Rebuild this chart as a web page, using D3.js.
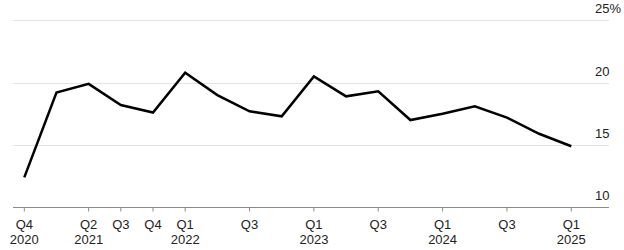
<!DOCTYPE html>
<html>
<head>
<meta charset="utf-8">
<script src="https://cdn.jsdelivr.net/npm/d3@7"></script>
<style>
  body { margin: 0; background: #fff; }
  svg text { font-family: "Liberation Sans", Arial, sans-serif; fill: #222; }
</style>
</head>
<body>
<svg id="chart" width="624" height="250"></svg>
<script>
// quarters shown on the chart
var quarters = ["Q4 2020", "Q1 2021", "Q2 2021", "Q3 2021", "Q4 2021",
                "Q1 2022", "Q2 2022", "Q3 2022", "Q4 2022",
                "Q1 2023", "Q2 2023", "Q3 2023", "Q4 2023",
                "Q1 2024", "Q2 2024", "Q3 2024", "Q4 2024", "Q1 2025"];
// series values, percent
var values = [12.4, 19.2, 19.9, 18.2, 17.6, 20.8, 19.0, 17.7, 17.3,
              20.5, 18.9, 19.3, 17.0, 17.5, 18.1, 17.2, 15.9, 14.9];
// labelled ticks on the x axis
var tickQuarters = ["Q4 2020", "Q2 2021", "Q3 2021", "Q4 2021", "Q1 2022", "Q3 2022",
                    "Q1 2023", "Q3 2023", "Q1 2024", "Q3 2024", "Q1 2025"];
var yearShown = ["Q4 2020", "Q2 2021", "Q1 2022", "Q1 2023", "Q1 2024", "Q1 2025"];
var yTicks = [10, 15, 20, 25];

var svg = d3.select("#chart");
var left = 13, right = 609;

var x = d3.scalePoint().domain(quarters).range([24.3, 571.3]);
var y = d3.scaleLinear().domain([10, 25]).range([207.3, 20.3]);

// gridlines
svg.append("g").selectAll("line")
  .data(yTicks.filter(function(d) { return d > 10; }))
  .enter().append("line")
  .attr("x1", left).attr("x2", right)
  .attr("y1", function(d) { return Math.round(y(d)) + 0.5; })
  .attr("y2", function(d) { return Math.round(y(d)) + 0.5; })
  .attr("stroke", "#e3e3e3").attr("stroke-width", 1);

// y labels
svg.append("g").selectAll("text")
  .data(yTicks)
  .enter().append("text")
  .attr("x", 595)
  .attr("y", function(d) { return y(d) - 7; })
  .attr("font-size", 13)
  .text(function(d) { return d === 25 ? d + "%" : d; });

// x axis
var xAxis = svg.append("g").attr("transform", "translate(0," + (Math.round(y(10)) + 0.5) + ")");
xAxis.append("line")
  .attr("x1", left).attr("x2", right)
  .attr("stroke", "#8a8a8a").attr("stroke-width", 1);

var tick = xAxis.selectAll(".tick")
  .data(tickQuarters)
  .enter().append("g")
  .attr("class", "tick")
  .attr("transform", function(d) { return "translate(" + x(d) + ",0)"; });
tick.append("line").attr("y2", 4).attr("stroke", "#8a8a8a");
var lbl = tick.append("text")
  .attr("text-anchor", "middle")
  .attr("font-size", 13);
lbl.append("tspan").attr("x", 0).attr("y", 21.5).text(function(d) { return d.split(" ")[0]; });
lbl.filter(function(d) { return yearShown.indexOf(d) >= 0; })
  .append("tspan").attr("x", 0).attr("y", 36.5).text(function(d) { return d.split(" ")[1]; });

// line
var line = d3.line()
  .x(function(d, i) { return x(quarters[i]); })
  .y(function(d) { return y(d); });

svg.append("path")
  .datum(values)
  .attr("d", line)
  .attr("fill", "none")
  .attr("stroke", "#000")
  .attr("stroke-width", 2.5)
  .attr("stroke-linejoin", "miter");
</script>
</body>
</html>
